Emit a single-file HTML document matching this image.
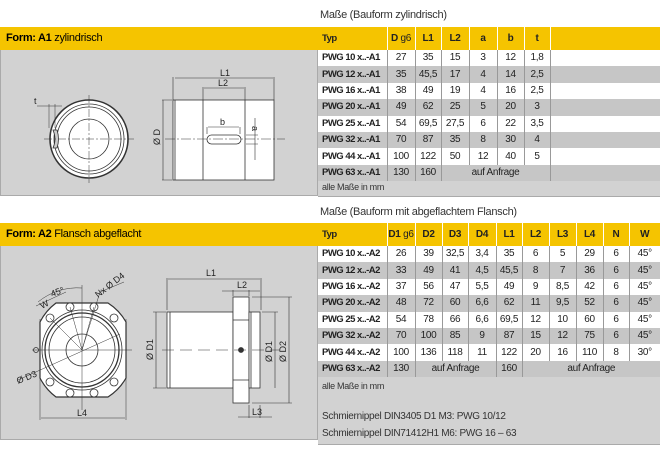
<!DOCTYPE html>
<html><head><meta charset="utf-8"><style>
*{margin:0;padding:0;box-sizing:border-box}
body{width:660px;height:450px;background:#fff;position:relative;overflow:hidden;font-family:"Liberation Sans",sans-serif}
.a{position:absolute;white-space:nowrap}
.y{background:#f5c400}
.g{background:#d2d2d2}
table{position:absolute;border-collapse:collapse;table-layout:fixed;font-size:10px;color:#222;white-space:nowrap;letter-spacing:-0.3px}
td{border-right:1px solid #999;text-align:center;padding:0;height:16.4px;line-height:16px;overflow:hidden;white-space:nowrap}
td.t{text-align:left;padding-left:4px;font-weight:bold;font-size:9.5px;letter-spacing:-0.5px}
tr.h td{font-weight:bold;height:23px;line-height:23px;border-right:1px solid #fff}
tr.w td{background:#fff}
tr.d td{background:#c6c6c6}
.s{font-size:10px;color:#333;letter-spacing:-0.3px}
</style></head><body>
<div class="a s" style="left:320px;top:9px;font-size:11px">Maße (Bauform zylindrisch)</div>
<div class="a y" style="left:0;top:27px;width:660px;height:23px"></div>
<div class="a" style="left:6px;top:32px;font-size:11px;letter-spacing:-0.3px"><b>Form: A1</b> zylindrisch</div>
<div class="a g" style="left:0;top:50px;width:318px;height:146px;border:1px solid #aaa;border-top:0"></div>
<div class="a g" style="left:318px;top:178px;width:342px;height:19px;border-bottom:1px solid #aaa"></div>
<div class="a s" style="left:322px;top:182px;font-size:9px">alle Maße in mm</div>
<table style="left:318px;top:27px;width:342px">
<colgroup><col style="width:69px"><col style="width:28px"><col style="width:26px"><col style="width:28px"><col style="width:28px"><col style="width:27px"><col style="width:26px"><col style="width:110px"></colgroup>
<tr class="h"><td class="t">Typ</td><td>D <span style="font-weight:normal">g6</span></td><td>L1</td><td>L2</td><td>a</td><td>b</td><td>t</td><td style="border:0"></td></tr>
<tr class="w"><td class="t">PWG 10 x..-A1</td><td>27</td><td>35</td><td>15</td><td>3</td><td>12</td><td>1,8</td><td style="border:0"></td></tr>
<tr class="d"><td class="t">PWG 12 x..-A1</td><td>35</td><td>45,5</td><td>17</td><td>4</td><td>14</td><td>2,5</td><td style="border:0"></td></tr>
<tr class="w"><td class="t">PWG 16 x..-A1</td><td>38</td><td>49</td><td>19</td><td>4</td><td>16</td><td>2,5</td><td style="border:0"></td></tr>
<tr class="d"><td class="t">PWG 20 x..-A1</td><td>49</td><td>62</td><td>25</td><td>5</td><td>20</td><td>3</td><td style="border:0"></td></tr>
<tr class="w"><td class="t">PWG 25 x..-A1</td><td>54</td><td>69,5</td><td>27,5</td><td>6</td><td>22</td><td>3,5</td><td style="border:0"></td></tr>
<tr class="d"><td class="t">PWG 32 x..-A1</td><td>70</td><td>87</td><td>35</td><td>8</td><td>30</td><td>4</td><td style="border:0"></td></tr>
<tr class="w"><td class="t">PWG 44 x..-A1</td><td>100</td><td>122</td><td>50</td><td>12</td><td>40</td><td>5</td><td style="border:0"></td></tr>
<tr class="d"><td class="t">PWG 63 x..-A1</td><td>130</td><td>160</td><td colspan="4">auf Anfrage</td><td style="border:0"></td></tr>
</table>

<div class="a s" style="left:320px;top:206px;font-size:11px">Maße (Bauform mit abgeflachtem Flansch)</div>
<div class="a y" style="left:0;top:223px;width:660px;height:23px"></div>
<div class="a" style="left:6px;top:228px;font-size:11px;letter-spacing:-0.3px"><b>Form: A2</b> Flansch abgeflacht</div>
<div class="a g" style="left:0;top:246px;width:318px;height:194px;border:1px solid #aaa;border-top:0"></div>
<div class="a g" style="left:318px;top:377px;width:342px;height:68px;border-bottom:1px solid #aaa"></div>
<div class="a s" style="left:322px;top:381px;font-size:9px">alle Maße in mm</div>
<div class="a s" style="left:322px;top:411px">Schmiernippel DIN3405 D1 M3: PWG 10/12</div>
<div class="a s" style="left:322px;top:428px">Schmiernippel DIN71412H1 M6: PWG 16 – 63</div>
<table style="left:318px;top:223px;width:342px">
<colgroup><col style="width:69px"><col style="width:28px"><col style="width:27px"><col style="width:26px"><col style="width:28px"><col style="width:26px"><col style="width:27px"><col style="width:27px"><col style="width:27px"><col style="width:26px"><col style="width:31px"></colgroup>
<tr class="h"><td class="t">Typ</td><td>D1 <span style="font-weight:normal">g6</span></td><td>D2</td><td>D3</td><td>D4</td><td>L1</td><td>L2</td><td>L3</td><td>L4</td><td>N</td><td style="border:0">W</td></tr>
<tr class="w"><td class="t">PWG 10 x..-A2</td><td>26</td><td>39</td><td>32,5</td><td>3,4</td><td>35</td><td>6</td><td>5</td><td>29</td><td>6</td><td style="border:0">45°</td></tr>
<tr class="d"><td class="t">PWG 12 x..-A2</td><td>33</td><td>49</td><td>41</td><td>4,5</td><td>45,5</td><td>8</td><td>7</td><td>36</td><td>6</td><td style="border:0">45°</td></tr>
<tr class="w"><td class="t">PWG 16 x..-A2</td><td>37</td><td>56</td><td>47</td><td>5,5</td><td>49</td><td>9</td><td>8,5</td><td>42</td><td>6</td><td style="border:0">45°</td></tr>
<tr class="d"><td class="t">PWG 20 x..-A2</td><td>48</td><td>72</td><td>60</td><td>6,6</td><td>62</td><td>11</td><td>9,5</td><td>52</td><td>6</td><td style="border:0">45°</td></tr>
<tr class="w"><td class="t">PWG 25 x..-A2</td><td>54</td><td>78</td><td>66</td><td>6,6</td><td>69,5</td><td>12</td><td>10</td><td>60</td><td>6</td><td style="border:0">45°</td></tr>
<tr class="d"><td class="t">PWG 32 x..-A2</td><td>70</td><td>100</td><td>85</td><td>9</td><td>87</td><td>15</td><td>12</td><td>75</td><td>6</td><td style="border:0">45°</td></tr>
<tr class="w"><td class="t">PWG 44 x..-A2</td><td>100</td><td>136</td><td>118</td><td>11</td><td>122</td><td>20</td><td>16</td><td>110</td><td>8</td><td style="border:0">30°</td></tr>
<tr class="d"><td class="t">PWG 63 x..-A2</td><td>130</td><td colspan="3">auf Anfrage</td><td>160</td><td colspan="5" style="border:0">auf Anfrage</td></tr>
</table>

<svg class="a" style="left:0;top:0" width="318" height="450" font-family="Liberation Sans" font-size="9" fill="none" stroke="#333" stroke-width="0.8">
<circle cx="89" cy="139" r="39" fill="#fff" stroke-width="1.6"/>
<circle cx="89" cy="139" r="35"/><circle cx="89" cy="139" r="32"/>
<circle cx="89" cy="139" r="20"/>
<path d="M53 130 q4 9 0 18 l4 0 q3 -9 0 -18z" fill="#ccc"/>
<path d="M44 139H134M89 95V183" stroke-dasharray="8 2 2 2" stroke-width="0.5"/>
<path d="M37 106H62M49 104V128M55 104V128" stroke-width="0.5"/>
<text x="34" y="104" fill="#222" stroke="none">t</text>
<rect x="173" y="100" width="101" height="80" fill="#fff"/>
<path d="M175 100V180M203 100V180M245 100V180"/>
<rect x="207" y="135" width="34" height="9" rx="4.5"/>
<path d="M165 139H285" stroke-dasharray="10 2 2 2" stroke-width="0.5"/>
<path d="M173 77V100M274 77V100M175 78H273M203 87V100M245 87V100M204 88H244M163 100V180M162 100H172M162 180H172M207 127V134M240 127V134M208 127H239M246 135H258M246 144H258M255 118V160" stroke-width="0.6"/>
<text x="220" y="76" fill="#222" stroke="none">L1</text><text x="218" y="86" fill="#222" stroke="none">L2</text>
<text x="220" y="125" fill="#222" stroke="none">b</text>
<text x="0" y="0" fill="#222" stroke="none" transform="translate(252,126) rotate(90)">a</text>
<text x="0" y="0" fill="#222" stroke="none" transform="translate(160,145) rotate(-90)">Ø D</text>
<path d="M40 322 A54 54 0 0 1 56 303 L108 303 A54 54 0 0 1 126 322 L126 378 A54 54 0 0 1 108 397 L56 397 A54 54 0 0 1 40 378Z" fill="#fff" stroke-width="1.2"/>
<circle cx="82" cy="350" r="40"/><circle cx="82" cy="350" r="37" stroke-width="1.3"/><circle cx="82" cy="350" r="33"/>
<circle cx="82" cy="350" r="16"/>
<g fill="#fff"><circle cx="70" cy="307" r="4"/><circle cx="94" cy="307" r="4"/><circle cx="50" cy="318" r="4"/><circle cx="114" cy="318" r="4"/><circle cx="70" cy="393" r="4"/><circle cx="94" cy="393" r="4"/><circle cx="50" cy="382" r="4"/><circle cx="114" cy="382" r="4"/></g>
<path d="M32 350H132M82 285V410" stroke-width="0.5"/>
<path d="M82 350L70 307M82 350L50 318M82 350L94 307M18 380L120 334M82 350L100 292L124 282M36 306L66 292M40 319V420M126 319V420M41 418H125" stroke-width="0.5"/>
<path d="M38 302A62 62 0 0 1 82 288" stroke-width="0.5"/>
<circle cx="36" cy="350" r="2.5"/>
<text x="52" y="297" fill="#222" stroke="none" transform="rotate(-20 52 297)">45°</text>
<text x="42" y="309" fill="#222" stroke="none" transform="rotate(-28 42 309)">W</text>
<text x="98" y="298" fill="#222" stroke="none" transform="rotate(-38 98 298)">Nx Ø D4</text>
<text x="18" y="384" fill="#222" stroke="none" transform="rotate(-22 18 384)">Ø D3</text>
<text x="77" y="416" fill="#222" stroke="none">L4</text>
<rect x="167" y="312" width="66" height="76" fill="#fff"/>
<path d="M170 312V388"/>
<rect x="233" y="297" width="16" height="106" fill="#fff"/>
<path d="M233 320H249M233 380H249"/>
<rect x="249" y="312" width="11" height="76" fill="#fff"/>
<path d="M251 312V388"/>
<circle cx="241" cy="350" r="2.5" fill="#333"/>
<path d="M162 350H280" stroke-dasharray="12 6" stroke-width="0.6"/>
<path d="M167 278V310M261 278V310M168 279H260M233 290V296M249 290V296M222 291H260M156 312V388M153 312H166M153 388H166M275 312V388M262 312H278M289 297V403M252 297H292M252 403H292M249 405V418M260 405V418M238 417H272" stroke-width="0.6"/>
<text x="206" y="276" fill="#222" stroke="none">L1</text><text x="237" y="288" fill="#222" stroke="none">L2</text>
<text x="252" y="415" fill="#222" stroke="none">L3</text>
<text fill="#222" stroke="none" transform="translate(153,360) rotate(-90)">Ø D1</text>
<text fill="#222" stroke="none" transform="translate(272,362) rotate(-90)">Ø D1</text>
<text fill="#222" stroke="none" transform="translate(286,362) rotate(-90)">Ø D2</text>
</svg>
</body></html>
